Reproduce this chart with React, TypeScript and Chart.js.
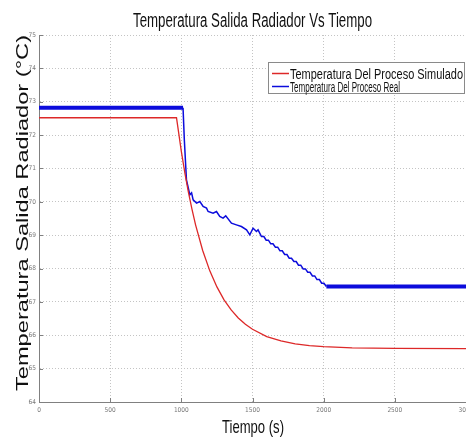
import React, { useEffect, useRef } from "react";
import { Chart, registerables } from "chart.js";

Chart.register(...registerables);

const chartTitle = "Temperatura Salida Radiador Vs Tiempo";
const xTitle = "Tiempo (s)";
const yTitle = "Temperatura Salida Radiador (°C)";
const seriesNames = ["Temperatura Del Proceso Simulado", "Temperatura Del Proceso Real"];
const xTicks = [0, 500, 1000, 1500, 2000, 2500, 3000];
const yTicks = [64, 65, 66, 67, 68, 69, 70, 71, 72, 73, 74, 75];

const simTime = [0, 966, 1000, 1025, 1050, 1075, 1100, 1150, 1200, 1250, 1300, 1350, 1400, 1450, 1500, 1600, 1700, 1800, 1900, 2000, 2200, 2500, 3000];
const simTemp = [72.52, 72.52, 71.51, 70.86, 70.28, 69.77, 69.31, 68.54, 67.93, 67.45, 67.06, 66.76, 66.52, 66.33, 66.18, 65.96, 65.83, 65.74, 65.69, 65.66, 65.62, 65.61, 65.6];

const realTime = [0, 1012, 1021, 1036, 1060, 1072, 1083, 1107, 1130, 1153, 1177, 1188, 1223, 1247, 1270, 1293, 1312, 1352, 1387, 1422, 1458, 1481, 1504, 1528, 1539, 1563,
  1580, 1596, 1612, 1628, 1644, 1661, 1677, 1693, 1709, 1726, 1742, 1758, 1774, 1791, 1807, 1823, 1839, 1856, 1872, 1888, 1904, 1921, 1937, 1953, 1970, 1986, 2002, 2019, 3000];
const realTemp = [72.82, 72.82, 71.86, 70.66, 70.21, 70.27, 70.06, 69.96, 70.01, 69.86, 69.81, 69.71, 69.66, 69.71, 69.56, 69.51, 69.58, 69.36, 69.31, 69.26, 69.16, 69.01, 69.21, 69.11, 69.16, 68.96,
  68.96, 68.85, 68.85, 68.74, 68.74, 68.64, 68.64, 68.53, 68.53, 68.42, 68.42, 68.31, 68.31, 68.21, 68.21, 68.1, 68.1, 67.99, 67.99, 67.89, 67.89, 67.78, 67.78, 67.67, 67.67, 67.56, 67.56, 67.46, 67.46];

const RED = "#dd2828";
const BLUE = "#0c0cdc";
const SANS = "'Liberation Sans', Arial, sans-serif";
const NARROW = "'Liberation Sans Narrow', 'DejaVu Sans Condensed', 'Liberation Sans', sans-serif";

function fitText(ctx: CanvasRenderingContext2D, text: string, x: number, y: number, px: number, family: string, targetW: number, align: "center" | "left", rot = 0, color = "#111") {
  ctx.save();
  ctx.font = `${px}px ${family}`;
  const w = ctx.measureText(text).width;
  const sx = targetW / w;
  ctx.translate(x, y);
  if (rot) ctx.rotate(rot);
  ctx.scale(sx, 1);
  ctx.textAlign = align;
  ctx.textBaseline = "alphabetic";
  ctx.fillStyle = color;
  ctx.fillText(text, 0, 0);
  ctx.restore();
}

const textPlugin = {
  id: "matlabText",
  afterDraw(chart: any) {
    const ctx: CanvasRenderingContext2D = chart.ctx;
    const xs = chart.scales.x;
    const ys = chart.scales.y;
    const area = chart.chartArea;
    ctx.save();
    ctx.strokeStyle = "#808080";
    ctx.lineWidth = 1;
    ctx.beginPath();
    xTicks.forEach((v) => {
      const px = Math.round(xs.getPixelForValue(v)) + 0.5;
      ctx.moveTo(px, area.bottom);
      ctx.lineTo(px, area.bottom - 4);
    });
    yTicks.forEach((v) => {
      const py = Math.round(ys.getPixelForValue(v)) + 0.5;
      ctx.moveTo(area.left, py);
      ctx.lineTo(area.left + 4, py);
    });
    ctx.stroke();
    ctx.restore();

    fitText(ctx, chartTitle, 252.5, 27, 20, SANS, 239, "center");
    fitText(ctx, xTitle, 253, 433, 19, SANS, 62, "center");
    fitText(ctx, yTitle, 28, 213, 17, SANS, 356, "center", -Math.PI / 2);

    ctx.save();
    ctx.fillStyle = "#ffffff";
    ctx.fillRect(268, 62, 196, 31);
    ctx.strokeStyle = "#8a8a8a";
    ctx.lineWidth = 1;
    ctx.strokeRect(268.5, 62.5, 196, 31);
    ctx.lineWidth = 1.5;
    ctx.strokeStyle = RED;
    ctx.beginPath();
    ctx.moveTo(272, 73.5);
    ctx.lineTo(289, 73.5);
    ctx.stroke();
    ctx.strokeStyle = BLUE;
    ctx.beginPath();
    ctx.moveTo(272, 86.5);
    ctx.lineTo(289, 86.5);
    ctx.stroke();
    ctx.restore();
    fitText(ctx, seriesNames[0], 290, 78.5, 14, SANS, 173, "left");
    fitText(ctx, seriesNames[1], 290, 91.5, 14, SANS, 110, "left");
  },
};

export default function App() {
  const ref = useRef<HTMLCanvasElement | null>(null);
  useEffect(() => {
    document.body.style.margin = "0";
    const canvas = ref.current!;
    const chart = new Chart(canvas, {
      type: "line",
      data: {
        datasets: [
          {
            label: seriesNames[0],
            data: simTime.map((t, i) => ({ x: t, y: simTemp[i] })),
            borderColor: RED,
            borderWidth: 1.3,
            pointRadius: 0,
            tension: 0,
            fill: false,
          },
          {
            label: seriesNames[1],
            data: realTime.map((t, i) => ({ x: t, y: realTemp[i] })),
            borderColor: BLUE,
            borderWidth: 1.5,
            pointRadius: 0,
            tension: 0,
            fill: false,
            segment: {
              borderWidth: (c: any) => (c.p1.parsed.x - c.p0.parsed.x > 400 ? 4 : 1.5),
            },
          },
        ],
      },
      options: {
        responsive: false,
        animation: false,
        devicePixelRatio: 1,
        layout: { padding: { top: 35, left: 0, right: -1, bottom: 0 } },
        plugins: { legend: { display: false }, title: { display: false }, tooltip: { enabled: false } },
        scales: {
          x: {
            type: "linear",
            min: 0,
            max: 3000,
            afterBuildTicks: (s: any) => {
              s.ticks = xTicks.map((v) => ({ value: v }));
            },
            afterFit: (s: any) => {
              s.height = 37;
              s.paddingLeft = 0;
              s.paddingRight = 0;
            },
            grid: { color: "#c4c4c4", lineWidth: 1, drawTicks: false },
            border: { color: "#808080", width: 1, dash: [1, 2] },
            ticks: {
              font: { size: 6.5, family: NARROW },
              color: "#777",
              padding: 4,
              maxRotation: 0,
              autoSkip: false,
              callback: (v: any) => String(v),
            },
          },
          y: {
            type: "linear",
            min: 64,
            max: 75,
            afterBuildTicks: (s: any) => {
              s.ticks = yTicks.map((v) => ({ value: v }));
            },
            afterFit: (s: any) => {
              s.width = 39;
              s.paddingTop = 0;
              s.paddingBottom = 0;
            },
            grid: { color: "#c4c4c4", lineWidth: 1, drawTicks: false },
            border: { color: "#808080", width: 1, dash: [1, 2] },
            ticks: {
              font: { size: 6.5, family: NARROW },
              color: "#777",
              padding: 3,
              autoSkip: false,
              callback: (v: any) => String(v),
            },
          },
        },
      },
      plugins: [textPlugin],
    } as any);
    return () => chart.destroy();
  }, []);
  return <canvas ref={ref} width={466} height={439} style={{ display: "block" }} />;
}
